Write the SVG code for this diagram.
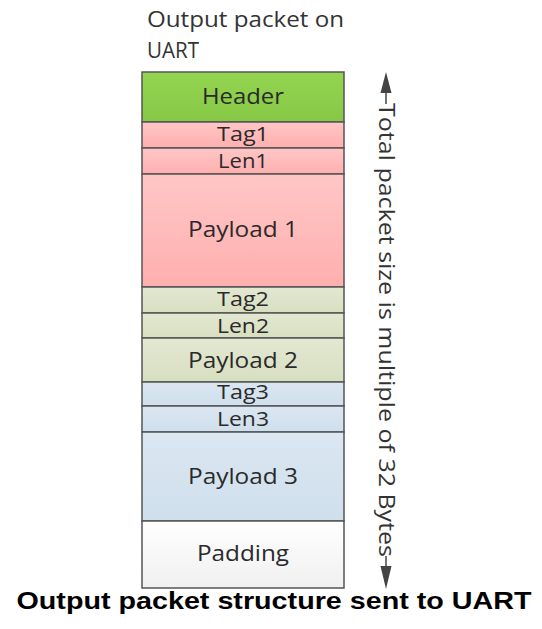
<svg xmlns="http://www.w3.org/2000/svg" width="542" height="629" viewBox="0 0 542 629">
  <style>
    .field { stroke: #555555; stroke-width: 1.5; }
    .lbl { font-family: "Open Sans", "DejaVu Sans", sans-serif; font-size: 21px; fill: #2a2a2a; text-anchor: middle; }
    .small { font-size: 20px; }
    .title { font-family: "Open Sans", "DejaVu Sans", sans-serif; font-size: 21px; fill: #333333; }
    .caption { font-family: "Liberation Sans", Arial, sans-serif; font-size: 24px; font-weight: bold; fill: #000000; text-anchor: middle; }
    .dim { stroke: #444444; stroke-width: 1.5; fill: none; }
    .head { fill: #444444; }
  </style>
  <defs>
    <linearGradient id="gHeader" x1="0" y1="0" x2="0" y2="1">
      <stop offset="0" stop-color="#94d451"/>
      <stop offset="1" stop-color="#86c846"/>
    </linearGradient>
    <linearGradient id="gPink" x1="0" y1="0" x2="0" y2="1">
      <stop offset="0" stop-color="#ffc6c6"/>
      <stop offset="1" stop-color="#ffafaf"/>
    </linearGradient>
    <linearGradient id="gOlive" x1="0" y1="0" x2="0" y2="1">
      <stop offset="0" stop-color="#e3e8d2"/>
      <stop offset="1" stop-color="#d8dfc0"/>
    </linearGradient>
    <linearGradient id="gBlue" x1="0" y1="0" x2="0" y2="1">
      <stop offset="0" stop-color="#dbe7f2"/>
      <stop offset="1" stop-color="#cfdfec"/>
    </linearGradient>
    <linearGradient id="gPad" x1="0" y1="0" x2="0" y2="1">
      <stop offset="0" stop-color="#ffffff"/>
      <stop offset="1" stop-color="#f0f0f0"/>
    </linearGradient>
  </defs>

  <text class="title" x="147" y="27" textLength="197" lengthAdjust="spacingAndGlyphs">Output packet on</text>
  <text class="title" x="147" y="58" textLength="52" lengthAdjust="spacingAndGlyphs">UART</text>

  <g id="header">
    <rect class="field" x="142" y="72" width="202" height="50" fill="url(#gHeader)"/>
    <text class="lbl" x="243" y="104" fill="#1f3300" textLength="82" lengthAdjust="spacingAndGlyphs">Header</text>
  </g>
  <g id="tag1">
    <rect class="field" x="142" y="122" width="202" height="26" fill="url(#gPink)"/>
    <text class="lbl small" x="243" y="141" textLength="52" lengthAdjust="spacingAndGlyphs">Tag1</text>
  </g>
  <g id="len1">
    <rect class="field" x="142" y="148" width="202" height="26" fill="url(#gPink)"/>
    <text class="lbl small" x="243" y="168" textLength="50" lengthAdjust="spacingAndGlyphs">Len1</text>
  </g>
  <g id="payload1">
    <rect class="field" x="142" y="174" width="202" height="113" fill="url(#gPink)"/>
    <text class="lbl" x="243" y="237" textLength="110" lengthAdjust="spacingAndGlyphs">Payload 1</text>
  </g>
  <g id="tag2">
    <rect class="field" x="142" y="287" width="202" height="26" fill="url(#gOlive)"/>
    <text class="lbl small" x="243" y="306" textLength="52" lengthAdjust="spacingAndGlyphs">Tag2</text>
  </g>
  <g id="len2">
    <rect class="field" x="142" y="313" width="202" height="25" fill="url(#gOlive)"/>
    <text class="lbl small" x="243" y="333" textLength="52" lengthAdjust="spacingAndGlyphs">Len2</text>
  </g>
  <g id="payload2">
    <rect class="field" x="142" y="338" width="202" height="44" fill="url(#gOlive)"/>
    <text class="lbl" x="243" y="368" textLength="110" lengthAdjust="spacingAndGlyphs">Payload 2</text>
  </g>
  <g id="tag3">
    <rect class="field" x="142" y="382" width="202" height="24" fill="url(#gBlue)"/>
    <text class="lbl small" x="243" y="399" textLength="52" lengthAdjust="spacingAndGlyphs">Tag3</text>
  </g>
  <g id="len3">
    <rect class="field" x="142" y="406" width="202" height="26" fill="url(#gBlue)"/>
    <text class="lbl small" x="243" y="426" textLength="52" lengthAdjust="spacingAndGlyphs">Len3</text>
  </g>
  <g id="payload3">
    <rect class="field" x="142" y="432" width="202" height="89" fill="url(#gBlue)"/>
    <text class="lbl" x="243" y="484" textLength="110" lengthAdjust="spacingAndGlyphs">Payload 3</text>
  </g>
  <g id="padding">
    <rect class="field" x="142" y="521" width="202" height="67" fill="url(#gPad)"/>
    <text class="lbl" x="243" y="561" textLength="92" lengthAdjust="spacingAndGlyphs">Padding</text>
  </g>

  <!-- total size dimension line with its label -->
  <g id="connectors">
    <path class="dim" d="M386,92 L386,104"/>
    <polygon class="head" points="386,72 380.5,93 391.5,93"/>
    <path class="dim" d="M386,556 L386,567"/>
    <polygon class="head" points="386,589 380.5,566 391.5,566"/>
  </g>
  <g id="size-label">
    <text class="title" transform="translate(378.5,103) rotate(90)" x="0" y="0" fill="#222222" textLength="454" lengthAdjust="spacingAndGlyphs">Total packet size is multiple of 32 Bytes</text>
  </g>

  <text class="caption" x="274" y="609" textLength="515" lengthAdjust="spacingAndGlyphs">Output packet structure sent to UART</text>
</svg>
